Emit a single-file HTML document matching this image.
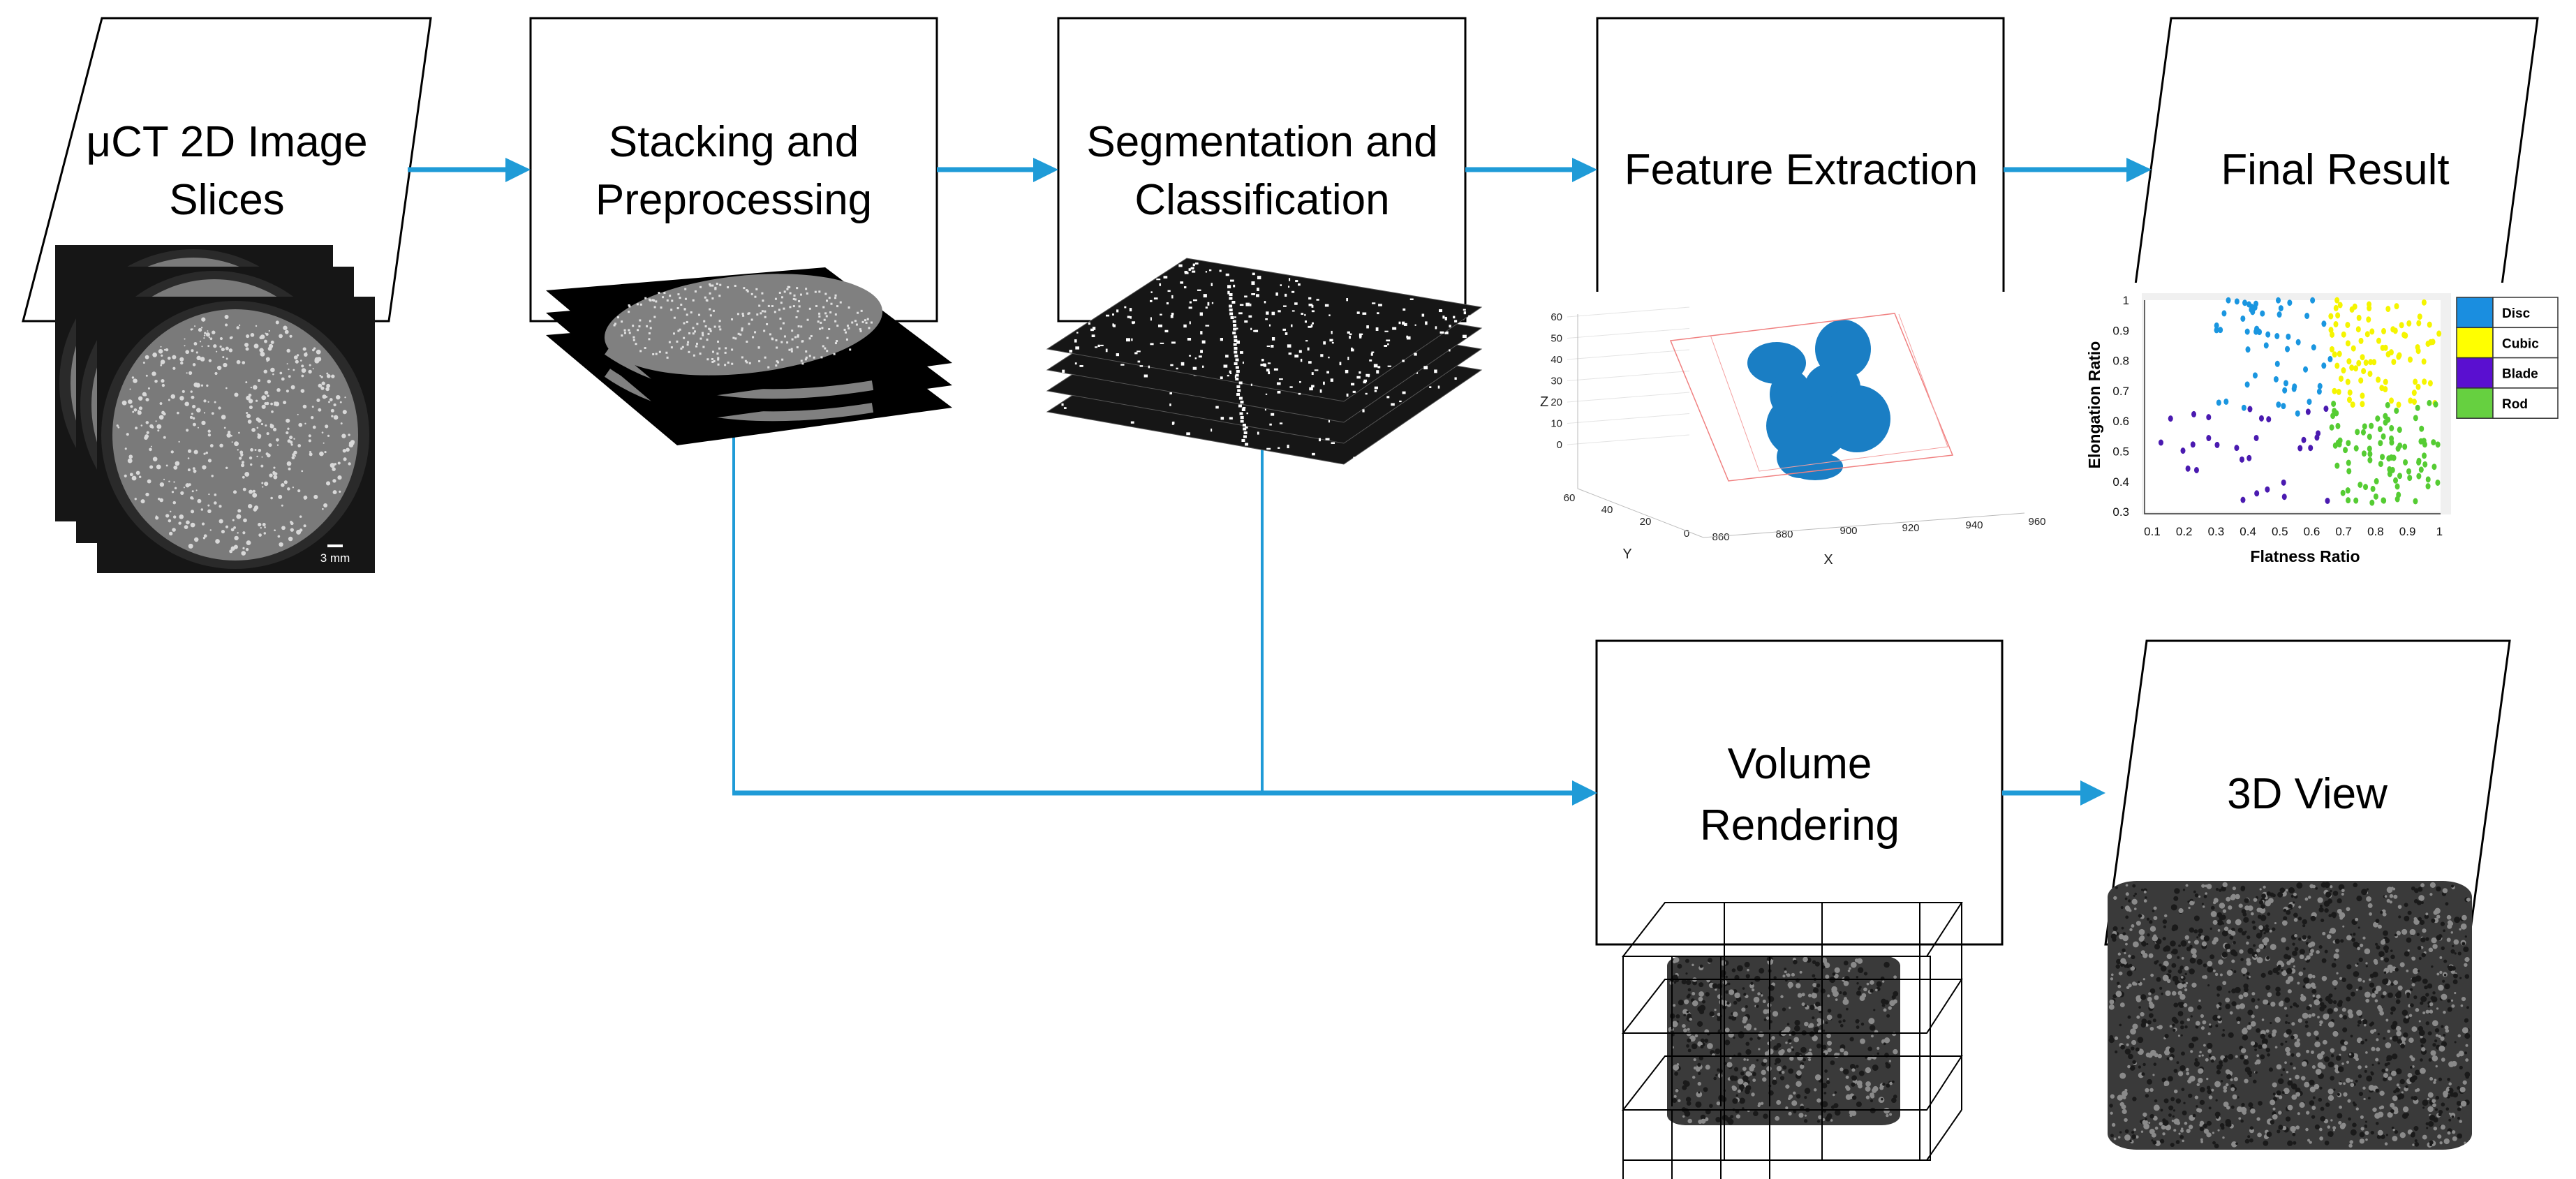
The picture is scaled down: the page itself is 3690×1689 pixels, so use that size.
<!DOCTYPE html>
<html><head><meta charset="utf-8"><style>
html,body{margin:0;padding:0;background:#fff;}
svg{display:block}
text{font-family:"Liberation Sans",sans-serif;}
</style></head><body>
<svg id="s" width="3690" height="1689" viewBox="0 0 3690 1689" xmlns="http://www.w3.org/2000/svg">
<g fill="none" stroke="#000" stroke-width="3">
<polygon points="146,26 617,26 557,460 33,460"/>
<rect x="760" y="26" width="582" height="434"/>
<rect x="1516" y="26" width="583" height="434"/>
<rect x="2288" y="26" width="582" height="434"/>
<polygon points="3110,26 3635,26 3577,460 3052,460"/>
<rect x="2287" y="918" width="581" height="435"/>
<polygon points="3075,918 3595,918 3536,1353 3016,1353"/>
</g>
<g fill="#000" font-size="62" text-anchor="middle">
<text x="325" y="224">μCT 2D Image</text>
<text x="325" y="307">Slices</text>
<text x="1051" y="224">Stacking and</text>
<text x="1051" y="307">Preprocessing</text>
<text x="1808" y="224">Segmentation and</text>
<text x="1808" y="307">Classification</text>
<text x="2580" y="264">Feature Extraction</text>
<text x="3345" y="264">Final Result</text>
<text x="2578" y="1115">Volume</text>
<text x="2578" y="1203">Rendering</text>
<text x="3305" y="1158">3D View</text>
</g>
<g stroke="#1f9bd7" fill="#1f9bd7">
<line x1="584" y1="243" x2="730" y2="243" stroke-width="7"/><polygon points="724,226 760,243 724,261" stroke="none"/>
<line x1="1342" y1="243" x2="1485" y2="243" stroke-width="7"/><polygon points="1480,226 1516,243 1480,261" stroke="none"/>
<line x1="2099" y1="243" x2="2258" y2="243" stroke-width="7"/><polygon points="2252,226 2288,243 2252,261" stroke="none"/>
<line x1="2870" y1="243" x2="3052" y2="243" stroke-width="7"/><polygon points="3046,226 3082,243 3046,261" stroke="none"/>
<line x1="1051" y1="600" x2="1051" y2="1136" stroke-width="4"/>
<line x1="1808" y1="643" x2="1808" y2="1136" stroke-width="4"/>
<line x1="1049" y1="1136" x2="2258" y2="1136" stroke-width="7"/><polygon points="2252,1118 2288,1136 2252,1154" stroke="none"/>
<line x1="2868" y1="1136" x2="2986" y2="1136" stroke-width="7"/><polygon points="2980,1118 3016,1136 2980,1154" stroke="none"/>
</g>
<rect x="2190" y="418" width="745" height="405" fill="#fff"/>
<rect x="2955" y="405" width="720" height="420" fill="#fff"/>
<g id="fg"></g>
</svg>
<script>
var NS="http://www.w3.org/2000/svg";
var seed=7;function r(){seed=(seed*16807)%2147483647;return (seed-1)/2147483646;}
function el(p,n,a,t){var e=document.createElementNS(NS,n);for(var k in a)e.setAttribute(k,a[k]);if(t!==undefined)e.textContent=t;p.appendChild(e);return e;}
var fg=document.getElementById('fg');
[[79,351],[109,382],[139,425]].forEach(function(o,i){
 el(fg,'rect',{x:o[0],y:o[1],width:398,height:396,fill:'#161616'});
 var cx=o[0]+198,cy=o[1]+198;
 el(fg,'ellipse',{cx:cx,cy:cy,rx:192,ry:192,fill:'#2a2a2a'});
 el(fg,'ellipse',{cx:cx,cy:cy,rx:176,ry:180,fill:'#7a7a7a'});
 if(i==2){for(var j=0;j<500;j++){var a=r()*6.283,d=Math.sqrt(r())*170;el(fg,'circle',{cx:cx+Math.cos(a)*d,cy:cy+Math.sin(a)*d*1.02,r:1+r()*2.5,fill:'#d8d8d8'});}}
});
el(fg,'rect',{x:469,y:780,width:22,height:4,fill:'#fff'});
el(fg,'text',{x:480,y:805,'font-size':17,fill:'#fff','text-anchor':'middle'},'3 mm');
for(var L=2;L>=0;L--){var dy=L*32;
 el(fg,'polygon',{points:[[782,416+dy],[1182,383+dy],[1364,520+dy],[970,574+dy]].map(function(p){return p.join(',')}).join(' '),fill:'#000'});
 if(L==0){el(fg,'ellipse',{cx:1065,cy:465+dy,rx:200,ry:70,transform:'rotate(-6 1065 '+(465+dy)+')',fill:'#808080'});
 for(var j=0;j<300;j++){var a=r()*6.283,d=Math.sqrt(r());el(fg,'rect',{x:1065+Math.cos(a)*d*190,y:465+Math.sin(a)*d*62,width:3,height:3,fill:'#e0e0e0'});}}
 else{el(fg,'path',{d:'M870,'+(470+dy)+' Q1000,'+(560+dy)+' 1250,'+(520+dy),fill:'none',stroke:'#808080','stroke-width':14});}
}
for(var L=3;L>=0;L--){var dy=L*30;
 var pts=[[1500,500+dy],[1700,370+dy],[2122,440+dy],[1925,575+dy]];
 el(fg,'polygon',{points:pts.map(function(p){return p.join(',')}).join(' '),fill:'#161616',stroke:'#555','stroke-width':1});
 var n=L==0?260:60;
 for(var j=0;j<n;j++){var u=r(),v=r();var x=1500+u*200+v*425,y=500+dy-u*130+v*75;el(fg,'rect',{x:x,y:y,width:2+r()*4,height:2+r()*3,fill:'#fff'});}
}
for(var j=0;j<40;j++){el(fg,'rect',{x:1758+j*0.5+r()*6,y:420+j*5.5,width:5,height:4,fill:'#fff'});}
var g3=el(fg,'g',{'font-size':15,fill:'#222'});
[60,50,40,30,20,10,0].forEach(function(v,i){el(g3,'text',{x:2238,y:459+i*30.5,'text-anchor':'end'},v);el(fg,'line',{x1:2245,y1:454+i*30.5,x2:2420,y2:440+i*30.5,stroke:'#e4e4e4','stroke-width':1});});
el(g3,'text',{x:2206,y:582,'font-size':20},'Z');
[[60,2248,718],[40,2302,735],[20,2357,752],[0,2416,769]].forEach(function(a){el(g3,'text',{x:a[1],y:a[2],'text-anchor':'middle'},a[0]);});
[[860,2465,774],[880,2556,770],[900,2648,765],[920,2737,761],[940,2828,757],[960,2918,752]].forEach(function(a){el(g3,'text',{x:a[1],y:a[2],'text-anchor':'middle'},a[0]);});
el(g3,'text',{x:2331,y:800,'font-size':20,'text-anchor':'middle'},'Y');
el(g3,'text',{x:2619,y:808,'font-size':20,'text-anchor':'middle'},'X');
el(fg,'polyline',{points:'2260,450 2260,700 2440,770 2900,735',fill:'none',stroke:'#bbb','stroke-width':1});
var blob=[[2545,520,42,30],[2640,500,40,42],[2625,555,40,35],[2590,610,60,50],[2660,600,48,48],[2580,655,35,30],[2600,668,40,20],[2565,565,30,35]];
blob.forEach(function(b){el(fg,'ellipse',{cx:b[0],cy:b[1],rx:b[2],ry:b[3],fill:'#1a7ec4'});});
el(fg,'polygon',{points:'2393,488 2714,449 2797,652 2476,689',fill:'none',stroke:'#f08080','stroke-width':1.5});
el(fg,'polyline',{points:'2450,480 2520,675 2790,640 2720,450',fill:'none',stroke:'#f4a0a0','stroke-width':1});
el(fg,'rect',{x:3068,y:420,width:443,height:317,fill:'#f0f0f0'});
el(fg,'rect',{x:3072,y:430,width:424,height:303,fill:'#fff'});
el(fg,'polyline',{points:'3072,430 3072,736 3496,736',fill:'none',stroke:'#333','stroke-width':1.5});
var gs=el(fg,'g',{'font-size':17,fill:'#111'});
for(var i=0;i<8;i++){var v=1-i*0.1;el(gs,'text',{x:3050,y:436+i*43.3,'text-anchor':'end'},i==0?'1':v.toFixed(1));}
for(var i=0;i<10;i++){var v=0.1+i*0.1;el(gs,'text',{x:3083+i*45.7,y:767,'text-anchor':'middle'},i==9?'1':v.toFixed(1));}
el(fg,'text',{x:3302,y:805,'font-size':23,'font-weight':'bold','text-anchor':'middle'},'Flatness Ratio');
el(fg,'text',{x:3008,y:580,'font-size':23,'font-weight':'bold','text-anchor':'middle',transform:'rotate(-90 3008 580)'},'Elongation Ratio');
function px(x){return 3083+(x-0.1)/0.9*411;} function py(y){return 430+(1-y)/0.7*303;}
function dots(n,x0,x1,y0,y1,c){for(var i=0;i<n;i++){el(fg,'ellipse',{cx:px(x0+r()*(x1-x0)),cy:py(y0+r()*(y1-y0)),rx:3.5,ry:4.5,fill:c});}}
dots(55,0.3,0.66,0.62,1,'#1a96e0');dots(90,0.66,1,0.65,1,'#f5f500');dots(30,0.1,0.66,0.32,0.65,'#4a1ab0');dots(90,0.66,1,0.32,0.66,'#55cc33');
var lg=[['Disc','#1a8ee0'],['Cubic','#ffff00'],['Blade','#5a0fd0'],['Rod','#66d040']];
lg.forEach(function(a,i){var y=426+i*43.3;el(fg,'rect',{x:3519,y:y,width:52,height:43.3,fill:a[1],stroke:'#333','stroke-width':1.5});el(fg,'rect',{x:3571,y:y,width:93,height:43.3,fill:'#fff',stroke:'#333','stroke-width':1.5});el(fg,'text',{x:3584,y:y+29,'font-size':19,'font-weight':'bold'},a[0]);});
function cyl(x,y,w,h,n){el(fg,'rect',{x:x,y:y,width:w,height:h,rx:w*0.08,ry:h*0.06,fill:'#3a3a3a'});for(var i=0;i<n;i++){el(fg,'circle',{cx:x+5+r()*(w-10),cy:y+5+r()*(h-10),r:1.5+r()*3,fill:r()<0.5?'#8a8a8a':'#1a1a1a'});}}
cyl(2388,1369,334,243,600);
var gg=el(fg,'g',{fill:'none',stroke:'#000','stroke-width':2});
for(var k=0;k<3;k++){var oy=k*110;
 for(var i=0;i<4;i++){el(gg,'line',{x1:2325+i*70,y1:1370+oy,x2:2325+i*70,y2:1475+oy});}
 el(gg,'polygon',{points:'2325,'+(1370+oy)+' 2385,'+(1293+oy)+' 2810,'+(1293+oy)+' 2760,'+(1370+oy)});
}
el(gg,'rect',{x:2325,y:1370,width:440,height:292});
el(gg,'line',{x1:2810,y1:1293,x2:2810,y2:1590});
el(gg,'line',{x1:2760,y1:1662,x2:2810,y2:1590});
for(var i=0;i<3;i++){el(gg,'line',{x1:2470+i*140,y1:1293,x2:2470+i*140,y2:1662});}
cyl(3019,1262,522,385,1600);
</script>
</body></html>
